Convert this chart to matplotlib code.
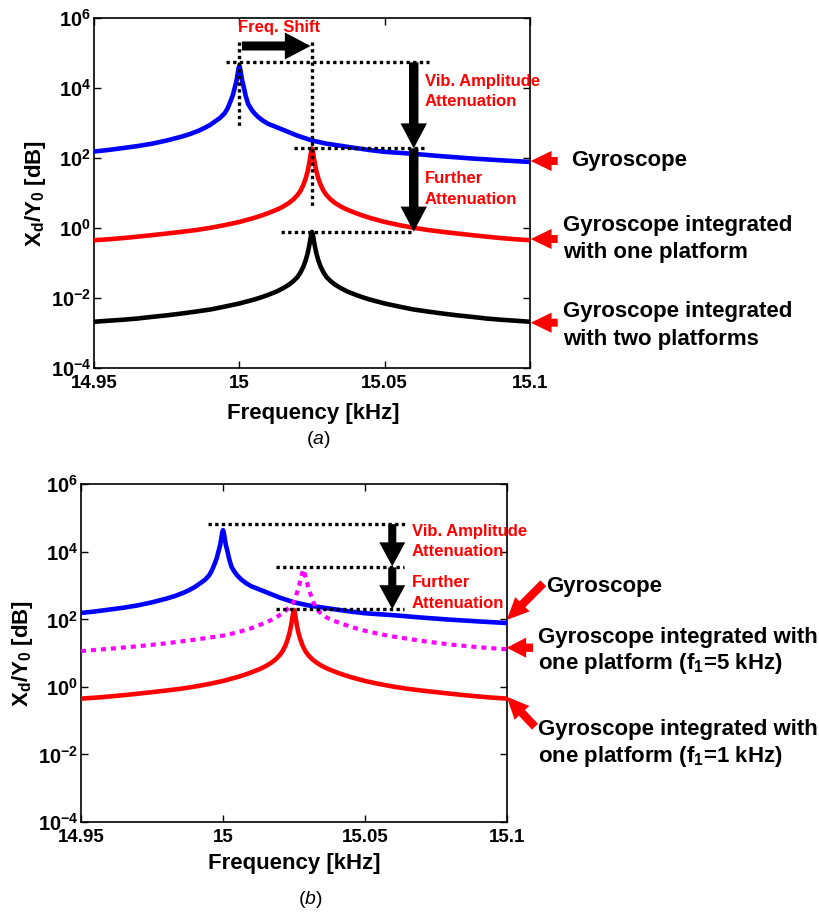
import numpy as np
import matplotlib
matplotlib.use('Agg')
import matplotlib.pyplot as plt
from matplotlib.ticker import FixedLocator, FuncFormatter, NullLocator

plt.rcParams['font.family'] = ['Liberation Sans', 'DejaVu Sans']
plt.rcParams['mathtext.fontset'] = 'custom'
plt.rcParams['mathtext.rm'] = 'Liberation Sans'
plt.rcParams['mathtext.bf'] = 'Liberation Sans:bold'
plt.rcParams['mathtext.it'] = 'Liberation Sans:italic'

# ---------------- data ----------------
x_ticks = [14.95, 15.0, 15.05, 15.1]
x_tick_labels = ['14.95', '15', '15.05', '15.1']
y_ticks = [1e-4, 1e-2, 1e0, 1e2, 1e4, 1e6]

# Gyroscope alone (blue)
f_gyro = [14.95, 14.955, 14.96, 14.965, 14.97, 14.975, 14.98, 14.983, 14.986, 14.988,
          14.99, 14.992, 14.9935, 14.995, 14.996, 14.997, 14.9978, 14.9985, 14.999,
          14.9994, 14.9997, 15.0, 15.0003, 15.0006, 15.001, 15.0015, 15.0022, 15.003,
          15.004, 15.005, 15.0065, 15.008, 15.01, 15.012, 15.015, 15.02, 15.025, 15.03,
          15.035, 15.04, 15.045, 15.05, 15.06, 15.07, 15.08, 15.09, 15.1]
x_gyro = [155, 172, 195, 222, 260, 320, 410, 490, 610, 730,
          900, 1180, 1450, 1950, 2700, 4300, 6500, 11000, 16000,
          25000, 36000, 44000, 36000, 25000, 16000, 11000, 6000, 3600,
          2600, 2000, 1500, 1200, 950, 820, 650, 440, 320, 260,
          225, 195, 170, 152, 133, 113, 98, 87, 78]

# Gyroscope integrated with one platform (red)
f_one = [14.95, 14.955, 14.96, 14.965, 14.97, 14.975, 14.98, 14.985, 14.99, 14.995,
         15.0, 15.005, 15.008, 15.01, 15.013, 15.015, 15.017, 15.0185, 15.02, 15.021,
         15.022, 15.0228, 15.0235, 15.024, 15.0244, 15.0247, 15.025,
         15.0253, 15.0256, 15.026, 15.0265, 15.0272, 15.028, 15.029, 15.03, 15.0315,
         15.033, 15.035, 15.037, 15.04, 15.042, 15.045, 15.05, 15.055, 15.06, 15.065,
         15.07, 15.075, 15.08, 15.085, 15.09, 15.095, 15.1]
x_one = [0.45, 0.48, 0.52, 0.57, 0.63, 0.7, 0.78, 0.88, 1.02, 1.22,
         1.5, 1.95, 2.35, 2.7, 3.4, 4.1, 5.2, 6.5, 8.8, 11.5,
         17, 26, 42, 68, 108, 155, 190,
         155, 108, 68, 42, 26, 17, 11.5, 8.8, 6.5,
         5.2, 4.1, 3.4, 2.7, 2.35, 1.95, 1.5, 1.22, 1.02, 0.88,
         0.78, 0.7, 0.63, 0.57, 0.52, 0.48, 0.45]

# Gyroscope integrated with two platforms (black)
f_two = f_one
x_two = [0.0021, 0.00225, 0.0024, 0.0026, 0.0029, 0.0032, 0.0036, 0.0041, 0.0047, 0.0057,
         0.007, 0.009, 0.0108, 0.0124, 0.0156, 0.019, 0.024, 0.03, 0.04, 0.053,
         0.078, 0.118, 0.19, 0.3, 0.46, 0.65, 0.78,
         0.65, 0.46, 0.3, 0.19, 0.118, 0.078, 0.053, 0.04, 0.03,
         0.024, 0.019, 0.0156, 0.0124, 0.0108, 0.009, 0.007, 0.0057, 0.0047, 0.0041,
         0.0036, 0.0032, 0.0029, 0.0026, 0.0024, 0.00225, 0.0021]

# Gyroscope integrated with one platform, f1 = 5 kHz (magenta dotted)
f_five = [14.95, 14.96, 14.97, 14.98, 14.99, 15.0, 15.005, 15.01, 15.015, 15.018,
          15.02, 15.022, 15.024, 15.025, 15.026, 15.0268, 15.0273, 15.0278, 15.0283,
          15.0288, 15.0295, 15.0303, 15.031, 15.032, 15.033, 15.0345, 15.036, 15.038,
          15.04, 15.045, 15.05, 15.055, 15.06, 15.07, 15.08, 15.09, 15.1]
x_five = [11.5, 13.5, 16, 19.5, 25, 33, 41, 55, 80, 105,
          135, 180, 260, 340, 600, 1000, 1500, 2200, 3000,
          2200, 1300, 750, 500, 300, 200, 150, 120, 98,
          85, 60, 46, 37, 31, 23, 18, 15, 13]

# Gyroscope integrated with one platform, f1 = 1 kHz (red, panel b)
f_one_b = f_one
x_one_b = x_one

# ---------------- figure ----------------
W, H = 820, 915
fig = plt.figure(figsize=(W / 100, H / 100), dpi=100)


def fx(px):
    return px / W


def fy(py):
    return 1 - py / H


ax1 = fig.add_axes([fx(94), fy(368), (530 - 94) / W, (368 - 18.3) / H])
ax2 = fig.add_axes([fx(81), fy(822), (507 - 81) / W, (822 - 484.3) / H])


def style(ax):
    ax.set_yscale('log')
    ax.set_xlim(14.95, 15.1)
    ax.set_ylim(1e-4, 1e6)
    ax.set_xticks(x_ticks, x_tick_labels, fontweight='bold', fontsize=13.5)
    ax.yaxis.set_major_locator(FixedLocator(y_ticks))
    ax.yaxis.set_minor_locator(NullLocator())
    ax.yaxis.set_major_formatter(
        FuncFormatter(lambda v, p: r'$\mathbf{10^{%d}}$' % int(round(np.log10(v)))))
    ax.tick_params(which='both', direction='in', top=True, right=True,
                   length=5, width=1)
    ax.tick_params(axis='y', pad=2, labelsize=14.5)
    ax.tick_params(axis='x', pad=5, labelsize=13.5)
    for s in ax.spines.values():
        s.set_linewidth(1.2)


style(ax1)
style(ax2)

LW = 3.3
DOT = dict(color='k', lw=2.4, linestyle=(0, (1, 1)), dash_capstyle='butt', zorder=5)

# ---- panel (a) curves ----
ax1.plot(f_gyro, x_gyro, color=(0, 0, 1), lw=LW, zorder=3)
ax1.plot(f_one, x_one, color=(1, 0, 0), lw=LW, zorder=3)
ax1.plot(f_two, x_two, color='k', lw=LW, zorder=3)

# ---- panel (b) curves ----
ax2.plot(f_gyro, x_gyro, color=(0, 0, 1), lw=LW, zorder=3)
ax2.plot(f_five, x_five, color=(1, 0, 1), lw=3.0, linestyle=(0, (1.2, 1.2)),
         dash_capstyle='butt', zorder=3)
ax2.plot(f_one_b, x_one_b, color=(1, 0, 0), lw=LW, zorder=3)


def arrow(ax, tail, tip, color, hl, hw, tw, coords='data', ms=10):
    ax.annotate('', xy=tip, xytext=tail, xycoords=coords, textcoords=coords,
                annotation_clip=False,
                arrowprops=dict(arrowstyle='simple,head_length=%g,head_width=%g,tail_width=%g'
                                % (hl, hw, tw),
                                fc=color, ec=color, lw=0, shrinkA=0, shrinkB=0,
                                mutation_scale=ms), zorder=6)


RED_TXT = dict(color=(1, 0, 0), fontsize=12, fontweight='bold', ha='left', va='center')

# ---- panel (a) annotations ----
ax1.plot([15.0, 15.0], [10 ** 5.33, 10 ** 2.9], **DOT)
ax1.plot([15.025, 15.025], [10 ** 5.33, 10 ** 0.57], **DOT)
ax1.plot([14.9953, 15.0651], [10 ** 4.74, 10 ** 4.74], **DOT)
ax1.plot([15.0188, 15.0644], [10 ** 2.28, 10 ** 2.28], **DOT)
ax1.plot([15.0145, 15.0601], [10 ** -0.12, 10 ** -0.12], **DOT)
arrow(ax1, (15.0009, 10 ** 5.208), (15.0245, 10 ** 5.208), 'k', 1.85, 1.94, 0.65)
arrow(ax1, (15.06, 10 ** 4.74), (15.06, 10 ** 2.28), 'k', 1.8, 1.9, 0.68)
arrow(ax1, (15.06, 10 ** 2.28), (15.06, 10 ** -0.1), 'k', 1.8, 1.9, 0.68)
ax1.text(14.9995, 10 ** 5.75, 'Freq. Shift', **RED_TXT)
ax1.text(15.0639, 10 ** 4.18, 'Vib. Amplitude', **RED_TXT)
ax1.text(15.0639, 10 ** 3.61, 'Attenuation', **RED_TXT)
ax1.text(15.0639, 10 ** 1.42, 'Further', **RED_TXT)
ax1.text(15.0639, 10 ** 0.82, 'Attenuation', **RED_TXT)

# ---- panel (b) annotations ----
ax2.plot([14.9947, 15.0646], [10 ** 4.82, 10 ** 4.82], **DOT)
ax2.plot([15.0185, 15.0637], [10 ** 3.54, 10 ** 3.54], **DOT)
ax2.plot([15.0185, 15.0637], [10 ** 2.30, 10 ** 2.30], **DOT)
arrow(ax2, (15.0596, 10 ** 4.82), (15.0596, 10 ** 3.57), 'k', 1.73, 1.87, 0.58)
arrow(ax2, (15.0596, 10 ** 3.54), (15.0596, 10 ** 2.30), 'k', 1.73, 1.87, 0.58)
ax2.text(15.0664, 10 ** 4.59, 'Vib. Amplitude', **RED_TXT)
ax2.text(15.0664, 10 ** 4.0, 'Attenuation', **RED_TXT)
ax2.text(15.0664, 10 ** 3.09, 'Further', **RED_TXT)
ax2.text(15.0664, 10 ** 2.48, 'Attenuation', **RED_TXT)

# ---- right-side labels & red arrows ----
LBL = dict(fontsize=16, fontweight='bold', ha='left', va='center', color='k')
RED = (1, 0, 0)
for y in (161, 239, 322.7):
    arrow(ax1, (fx(557.7), fy(y)), (fx(530.7), fy(y)), RED, 1.5, 1.45, 0.58,
          coords='figure fraction')
fig.text(fx(571), fy(160.7), 'Gyroscope', **LBL)
fig.text(fx(562.7), fy(225), 'Gyroscope integrated', **LBL)
fig.text(fx(562.7), fy(252.3), 'with one platform', **LBL)
fig.text(fx(562.7), fy(311.7), 'Gyroscope integrated', **LBL)
fig.text(fx(562.7), fy(339.3), 'with two platforms', **LBL)

arrow(ax2, (fx(543.3), fy(583.3)), (fx(506.7), fy(620)), RED, 1.6, 1.45, 0.6,
      coords='figure fraction')
arrow(ax2, (fx(533), fy(647.7)), (fx(506.7), fy(647.7)), RED, 1.4, 1.45, 0.6,
      coords='figure fraction')
arrow(ax2, (fx(535), fy(726.7)), (fx(506.7), fy(696.7)), RED, 1.6, 1.45, 0.6,
      coords='figure fraction')
fig.text(fx(546), fy(586.7), 'Gyroscope', **LBL)
fig.text(fx(537.7), fy(637.3), 'Gyroscope integrated with', **LBL)
fig.text(fx(537.7), fy(664), r'one platform (f$_{\mathbf{1}}$=5 kHz)', **LBL)
fig.text(fx(537.7), fy(730), 'Gyroscope integrated with', **LBL)
fig.text(fx(537.7), fy(756.7), r'one platform (f$_{\mathbf{1}}$=1 kHz)', **LBL)

# ---- axis labels and panel tags ----
AX = dict(fontsize=16, fontweight='bold', ha='center', va='center')
fig.text(fx(35.5), fy(193), r'$\mathbf{X_d/Y_0}$ [dB]', rotation=90, **AX)
fig.text(fx(23), fy(653), r'$\mathbf{X_d/Y_0}$ [dB]', rotation=90, **AX)
fig.text(fx(313.6), fy(413.3), 'Frequency [kHz]', **AX)
fig.text(fx(294), fy(864), 'Frequency [kHz]', **AX)
fig.text(fx(318), fy(440), r'($\mathit{a}$)', fontsize=14, ha='center', va='center')
fig.text(fx(310), fy(900), r'($\mathit{b}$)', fontsize=14, ha='center', va='center')

fig.savefig('out.png', dpi=100)
